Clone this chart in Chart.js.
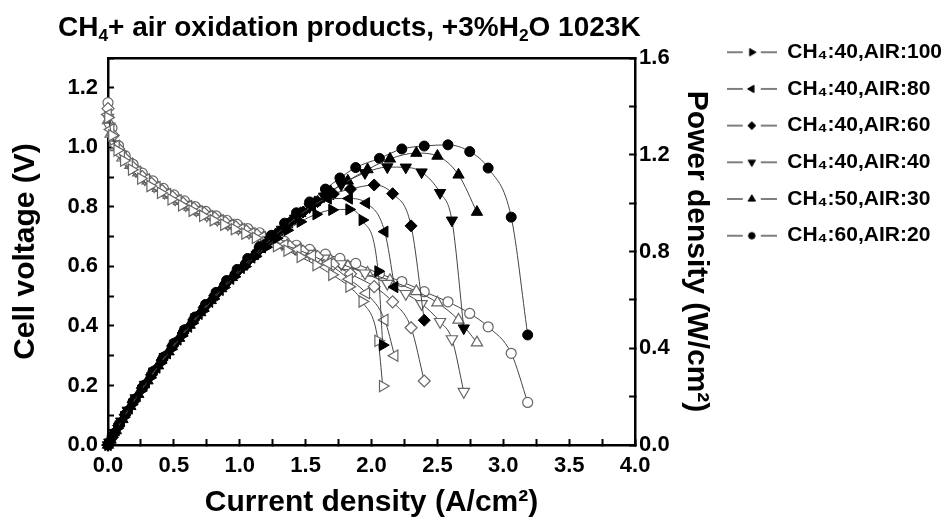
<!DOCTYPE html>
<html>
<head>
<meta charset="utf-8">
<script src="https://cdn.jsdelivr.net/npm/chart.js@4.4.0/dist/chart.umd.min.js"></script>
<style>
  html, body { margin: 0; padding: 0; background: #fff; }
  #wrap { position: relative; width: 952px; height: 520px; }
  #title {
    position: absolute; left: 58px; top: 12px;
    font: bold 28px 'Liberation Sans', Arial, sans-serif; line-height: 30px;
    color: #000; white-space: nowrap;
  }
  #title sub { font-size: 0.62em; vertical-align: -0.3em; line-height: 0; }
</style>
</head>
<body>
<div id="wrap">
  <canvas id="chart" width="952" height="520"></canvas>
  <div id="title">CH<sub>4</sub>+ air oxidation products, +3%H<sub>2</sub>O 1023K</div>
</div>
<script>
// series labels (legend order)
const seriesLabels = ['CH₄:40,AIR:100', 'CH₄:40,AIR:80', 'CH₄:40,AIR:60', 'CH₄:40,AIR:40', 'CH₄:50,AIR:30', 'CH₄:60,AIR:20'];

// tick labels
const xTickLabels = ['0.0', '0.5', '1.0', '1.5', '2.0', '2.5', '3.0', '3.5', '4.0'];
const voltageTickLabels = ['0.0', '0.2', '0.4', '0.6', '0.8', '1.0', '1.2'];
const powerTickLabels = ['0.0', '0.4', '0.8', '1.2', '1.6'];

// CH4:40, AIR:100
const currentS1 = [0, 0.03, 0.07, 0.12, 0.18, 0.25, 0.32, 0.40, 0.48, 0.56, 0.64, 0.72, 0.80, 0.88, 0.96, 1.04, 1.12, 1.20, 1.28, 1.36, 1.46, 1.58, 1.70, 1.83, 1.93, 2.05, 2.085];
const voltageS1 = [1.10, 1.04, 0.99, 0.955, 0.925, 0.895, 0.87, 0.847, 0.825, 0.805, 0.787, 0.77, 0.755, 0.74, 0.725, 0.71, 0.696, 0.682, 0.668, 0.653, 0.632, 0.604, 0.572, 0.532, 0.482, 0.35, 0.198];
const powerS1 = [0, 0.031, 0.069, 0.115, 0.167, 0.224, 0.278, 0.339, 0.396, 0.451, 0.504, 0.554, 0.604, 0.651, 0.696, 0.738, 0.780, 0.818, 0.855, 0.888, 0.923, 0.954, 0.972, 0.974, 0.930, 0.718, 0.413];

// CH4:40, AIR:80
const currentS2 = [0, 0.02, 0.06, 0.10, 0.16, 0.22, 0.29, 0.37, 0.45, 0.53, 0.61, 0.69, 0.77, 0.85, 0.93, 1.01, 1.09, 1.17, 1.25, 1.34, 1.44, 1.55, 1.67, 1.83, 1.96, 2.10, 2.175];
const voltageS2 = [1.11, 1.06, 1.005, 0.975, 0.945, 0.918, 0.892, 0.866, 0.843, 0.822, 0.802, 0.785, 0.769, 0.754, 0.739, 0.725, 0.711, 0.698, 0.686, 0.672, 0.656, 0.636, 0.61, 0.557, 0.51, 0.42, 0.30];
const powerS2 = [0, 0.021, 0.060, 0.098, 0.151, 0.202, 0.259, 0.320, 0.379, 0.436, 0.489, 0.542, 0.592, 0.641, 0.687, 0.732, 0.775, 0.817, 0.858, 0.900, 0.945, 0.986, 1.019, 1.019, 1.000, 0.882, 0.653];

// CH4:40, AIR:60
const currentS3 = [0, 0.04, 0.08, 0.13, 0.19, 0.26, 0.33, 0.41, 0.49, 0.57, 0.65, 0.73, 0.81, 0.89, 0.97, 1.05, 1.13, 1.21, 1.29, 1.38, 1.48, 1.59, 1.71, 1.84, 2.02, 2.16, 2.30, 2.40];
const voltageS3 = [1.13, 1.04, 0.995, 0.962, 0.933, 0.902, 0.879, 0.855, 0.834, 0.813, 0.795, 0.779, 0.763, 0.748, 0.733, 0.719, 0.706, 0.693, 0.681, 0.667, 0.651, 0.633, 0.607, 0.575, 0.532, 0.481, 0.394, 0.215];
const powerS3 = [0, 0.042, 0.080, 0.125, 0.177, 0.235, 0.290, 0.351, 0.409, 0.463, 0.517, 0.569, 0.618, 0.666, 0.711, 0.755, 0.798, 0.839, 0.878, 0.920, 0.963, 1.006, 1.038, 1.058, 1.075, 1.039, 0.906, 0.516];

// CH4:40, AIR:40
const currentS4 = [0, 0.01, 0.05, 0.10, 0.15, 0.21, 0.28, 0.35, 0.43, 0.51, 0.59, 0.67, 0.75, 0.83, 0.91, 0.99, 1.07, 1.15, 1.23, 1.32, 1.42, 1.53, 1.64, 1.77, 1.95, 2.12, 2.26, 2.38, 2.52, 2.61, 2.70];
const voltageS4 = [1.10, 1.07, 1.01, 0.975, 0.95, 0.922, 0.893, 0.87, 0.848, 0.826, 0.806, 0.789, 0.772, 0.757, 0.742, 0.728, 0.714, 0.701, 0.689, 0.675, 0.66, 0.643, 0.627, 0.608, 0.577, 0.542, 0.508, 0.474, 0.414, 0.356, 0.179];
const powerS4 = [0, 0.011, 0.051, 0.098, 0.143, 0.194, 0.250, 0.305, 0.365, 0.421, 0.476, 0.529, 0.579, 0.628, 0.675, 0.721, 0.764, 0.806, 0.847, 0.891, 0.937, 0.984, 1.028, 1.076, 1.125, 1.149, 1.148, 1.128, 1.043, 0.929, 0.483];

// CH4:50, AIR:30
const currentS5 = [0, 0.02, 0.06, 0.11, 0.17, 0.23, 0.30, 0.38, 0.46, 0.54, 0.62, 0.70, 0.78, 0.86, 0.94, 1.02, 1.10, 1.18, 1.27, 1.36, 1.46, 1.57, 1.69, 1.82, 1.97, 2.14, 2.34, 2.50, 2.66, 2.80];
const voltageS5 = [1.09, 1.045, 1.0, 0.965, 0.94, 0.915, 0.888, 0.863, 0.84, 0.819, 0.8, 0.783, 0.767, 0.752, 0.737, 0.723, 0.709, 0.697, 0.684, 0.67, 0.656, 0.639, 0.62, 0.60, 0.578, 0.553, 0.516, 0.478, 0.42, 0.344];
const powerS5 = [0, 0.021, 0.060, 0.106, 0.160, 0.210, 0.266, 0.328, 0.386, 0.442, 0.496, 0.548, 0.598, 0.647, 0.693, 0.737, 0.780, 0.822, 0.869, 0.911, 0.958, 1.003, 1.048, 1.092, 1.139, 1.183, 1.207, 1.195, 1.117, 0.963];

// CH4:60, AIR:20
const currentS6 = [0, 0.03, 0.08, 0.13, 0.19, 0.26, 0.34, 0.42, 0.50, 0.58, 0.66, 0.74, 0.82, 0.90, 0.98, 1.06, 1.15, 1.24, 1.34, 1.43, 1.53, 1.65, 1.76, 1.88, 2.06, 2.23, 2.40, 2.58, 2.745, 2.885, 3.06, 3.185];
const voltageS6 = [1.15, 1.065, 1.005, 0.972, 0.943, 0.913, 0.887, 0.862, 0.84, 0.82, 0.801, 0.785, 0.77, 0.755, 0.741, 0.727, 0.713, 0.699, 0.684, 0.671, 0.657, 0.641, 0.627, 0.61, 0.575, 0.549, 0.515, 0.481, 0.442, 0.397, 0.308, 0.143];
const powerS6 = [0, 0.032, 0.080, 0.126, 0.179, 0.237, 0.302, 0.362, 0.420, 0.476, 0.529, 0.581, 0.631, 0.680, 0.726, 0.771, 0.820, 0.867, 0.917, 0.960, 1.005, 1.058, 1.104, 1.147, 1.185, 1.224, 1.236, 1.241, 1.213, 1.145, 0.942, 0.455];

const currents = [currentS1, currentS2, currentS3, currentS4, currentS5, currentS6];
const voltages = [voltageS1, voltageS2, voltageS3, voltageS4, voltageS5, voltageS6];
const powers = [powerS1, powerS2, powerS3, powerS4, powerS5, powerS6];

// marker shape per series
const markers = [
  { style: 'triangle', rotation: 90, radius: 6.5 },
  { style: 'triangle', rotation: -90, radius: 6.5 },
  { style: 'rectRot', rotation: 0, radius: 6 },
  { style: 'triangle', rotation: 180, radius: 6.5 },
  { style: 'triangle', rotation: 0, radius: 6.5 },
  { style: 'circle', rotation: 0, radius: 5 }
];

const FONT = "'Liberation Sans', Arial, sans-serif";
Chart.defaults.font.family = FONT;
Chart.defaults.color = '#000';

const toPoints = (xs, ys) => xs.map((x, i) => ({ x: x, y: ys[i] }));

const datasets = [];
voltages.forEach((v, i) => {
  datasets.push({
    label: seriesLabels[i] + ' V',
    data: toPoints(currents[i], v),
    yAxisID: 'y',
    borderColor: '#444',
    borderWidth: 1,
    cubicInterpolationMode: 'monotone',
    pointStyle: markers[i].style,
    rotation: markers[i].rotation,
    pointRadius: markers[i].radius,
    pointBackgroundColor: '#fff',
    pointBorderColor: '#666',
    pointBorderWidth: 1.2,
    order: 1,
    clip: false
  });
});
powers.forEach((p, i) => {
  datasets.push({
    label: seriesLabels[i],
    data: toPoints(currents[i], p),
    yAxisID: 'y1',
    borderColor: '#444',
    borderWidth: 1,
    cubicInterpolationMode: 'monotone',
    pointStyle: markers[i].style,
    rotation: markers[i].rotation,
    pointRadius: markers[i].radius,
    pointBackgroundColor: '#000',
    pointBorderColor: '#000',
    pointBorderWidth: 1,
    order: 0,
    clip: false
  });
});

// legend symbol: line - marker - line
function legendSymbol(m) {
  const c = document.createElement('canvas');
  c.width = 50; c.height = 16;
  const g = c.getContext('2d');
  g.strokeStyle = '#555'; g.lineWidth = 1.5;
  g.beginPath(); g.moveTo(0, 8); g.lineTo(16, 8); g.moveTo(34, 8); g.lineTo(50, 8); g.stroke();
  g.fillStyle = '#000'; g.strokeStyle = '#000'; g.lineWidth = 1;
  Chart.helpers.drawPoint(g, { pointStyle: m.style, rotation: m.rotation, radius: m.radius * 0.65, borderWidth: 1 }, 25, 8);
  return c;
}
const legendSymbols = markers.map(legendSymbol);

const inwardGrid = { drawOnChartArea: false, drawTicks: true, tickLength: -6, tickWidth: 2, tickColor: '#000' };
const axisBorder = { color: '#000', width: 2.5 };
const tickFont = { size: 22, weight: 'bold' };
const titleFont = { size: 30, weight: 'bold', lineHeight: 1 };

new Chart(document.getElementById('chart').getContext('2d'), {
  type: 'line',
  data: { datasets: datasets },
  options: {
    responsive: false,
    animation: false,
    devicePixelRatio: 1,
    layout: { padding: { top: 26, left: 0, right: 0, bottom: 0 } },
    plugins: {
      tooltip: { enabled: false },
      legend: {
        position: 'right',
        align: 'start',
        maxWidth: 300,
        labels: {
          usePointStyle: true,
          pointStyleWidth: 50,
          padding: 15.7,
          color: '#000',
          font: { size: 21, weight: 'bold' },
          generateLabels: () => seriesLabels.map((text, i) => ({
            text: text,
            pointStyle: legendSymbols[i],
            fillStyle: '#000',
            strokeStyle: '#000',
            lineWidth: 1,
            hidden: false,
            datasetIndex: 6 + i
          }))
        }
      }
    },
    scales: {
      x: {
        type: 'linear',
        position: 'bottom',
        min: 0, max: 4,
        ticks: {
          stepSize: 0.25, autoSkip: false, maxRotation: 0, padding: 14, font: tickFont, color: '#000',
          callback: v => { const s = Number(v).toFixed(1); return xTickLabels.includes(s) ? s : ''; }
        },
        grid: inwardGrid,
        border: axisBorder,
        title: { display: true, text: 'Current density (A/cm²)', font: titleFont, color: '#000', padding: { top: 0, bottom: 2 } },
        afterFit: s => { s.height = 75; }
      },
      xTop: {
        type: 'linear',
        position: 'top',
        min: 0, max: 4,
        ticks: { display: false },
        grid: { display: false, drawTicks: false },
        border: axisBorder,
        afterFit: s => { s.height = 32; }
      },
      y: {
        type: 'linear',
        position: 'left',
        min: 0, max: 1.3,
        ticks: {
          stepSize: 0.1, autoSkip: false, padding: 16, font: tickFont, color: '#000',
          callback: v => { const s = Number(v).toFixed(1); return voltageTickLabels.includes(s) ? s : ''; }
        },
        grid: inwardGrid,
        border: axisBorder,
        title: { display: true, text: 'Cell voltage (V)', font: titleFont, color: '#000', padding: { top: 11, bottom: 0 } },
        afterFit: s => { s.width = 108; }
      },
      y1: {
        type: 'linear',
        position: 'right',
        min: 0, max: 1.6,
        ticks: {
          stepSize: 0.2, autoSkip: false, padding: 10, font: tickFont, color: '#000',
          callback: v => { const s = Number(v).toFixed(1); return powerTickLabels.includes(s) ? s : ''; }
        },
        grid: inwardGrid,
        border: axisBorder,
        title: { display: true, text: 'Power density (W/cm²)', font: titleFont, color: '#000', padding: { top: 0, bottom: 0 } },
        afterFit: s => { s.width = 76; }
      }
    }
  }
});
</script>
</body>
</html>
